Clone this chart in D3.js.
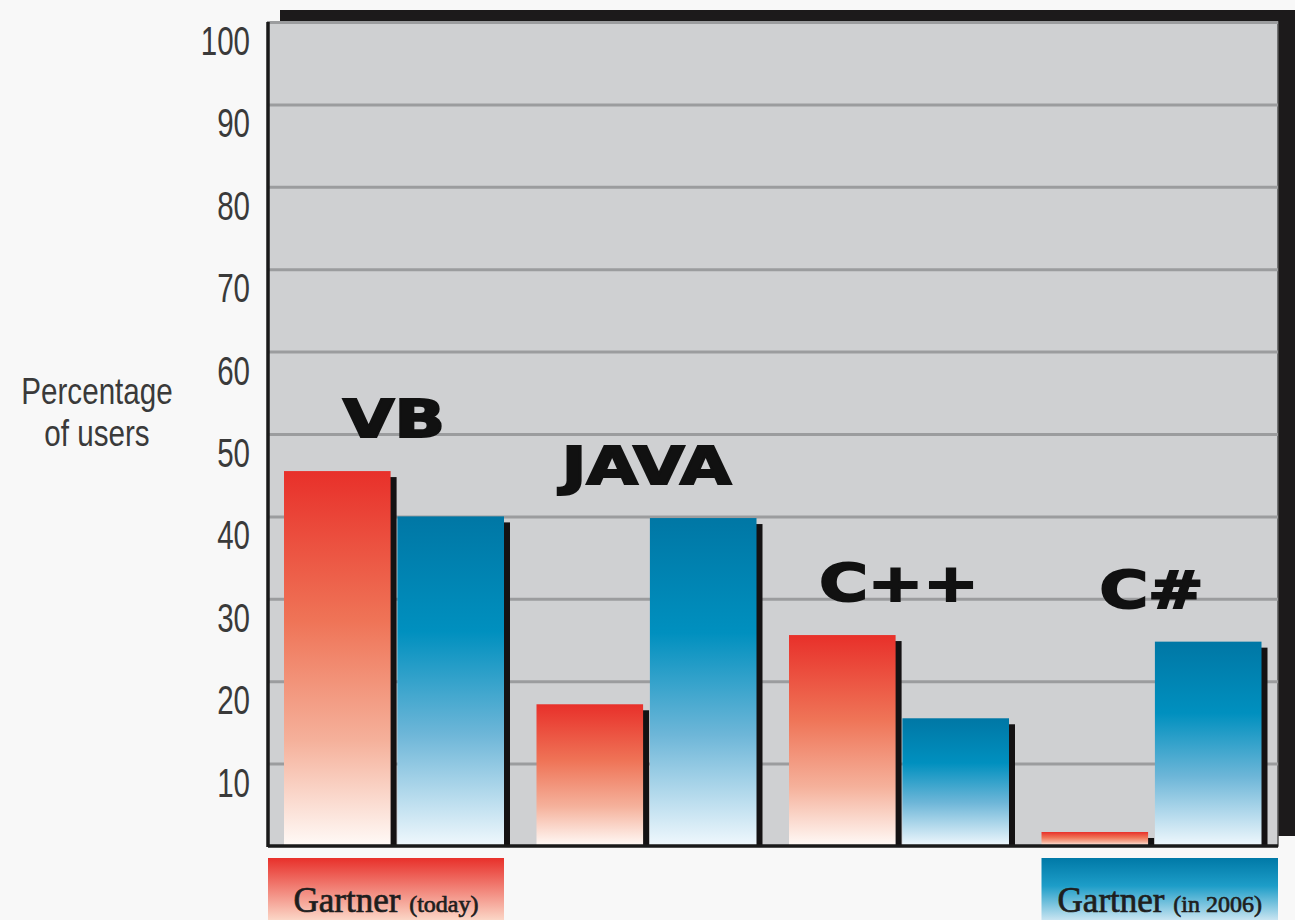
<!DOCTYPE html>
<html>
<head>
<meta charset="utf-8">
<script src="https://cdn.jsdelivr.net/npm/d3@7"></script>
<style>
  html, body { margin: 0; padding: 0; overflow: hidden; background: #f8f8f8; }
  svg { display: block; }
</style>
</head>
<body>
<svg id="chart"></svg>
<script>
// data
const categories = ["VB", "JAVA", "C++", "C#"];
const series = ["today", "in 2006"];
const todayValues = [45.5, 17.2, 25.6, 1.7];
const in2006Values = [40, 39.8, 15.5, 24.8];
const yTicks = [10, 20, 30, 40, 50, 60, 70, 80, 90, 100];
const legendLabels = [["Gartner", "(today)"], ["Gartner", "(in 2006)"]];

const W = 1295, H = 920;
const plot = { left: 268, top: 22, right: 1278, bottom: 846 };
const plotW = plot.right - plot.left;
const plotH = plot.bottom - plot.top;

const svg = d3.select("#chart").attr("width", W).attr("height", H);

// gradients
const defs = svg.append("defs");
function grad(id, stops) {
  const g = defs.append("linearGradient").attr("id", id)
    .attr("x1", 0).attr("y1", 0).attr("x2", 0).attr("y2", 1);
  stops.forEach(s => g.append("stop").attr("offset", s[0]).attr("stop-color", s[1]));
}
grad("redGrad", [[0, "#e8302a"], [0.4, "#ef7457"], [0.72, "#f5b19b"], [1, "#fffaf7"]]);
grad("blueGrad", [[0, "#0077a5"], [0.35, "#0090bf"], [0.66, "#6db6d8"], [1, "#f0f8fd"]]);
grad("redLegend", [[0, "#e8302a"], [1, "#fbd6c6"]]);
grad("blueLegend", [[0, "#0079a7"], [0.45, "#1d9dc8"], [1, "#c8e4f1"]]);

// scales
const y = d3.scaleLinear().domain([0, 100]).range([plot.bottom, plot.top]);
const x0 = d3.scaleBand().domain(categories).range([plot.left, plot.right]);
const x1 = d3.scaleBand().domain(series).range([16, 236]).paddingInner(0.06);
const fills = { "today": "url(#redGrad)", "in 2006": "url(#blueGrad)" };

// frame shadow (top and right)
svg.append("rect")
  .attr("x", plot.left + 12).attr("y", plot.top - 12)
  .attr("width", W - plot.left - 12).attr("height", plotH + 2)
  .attr("fill", "#1c1a1b");

// plot background
svg.append("rect")
  .attr("x", plot.left).attr("y", plot.top)
  .attr("width", plotW).attr("height", plotH)
  .attr("fill", "#cfd0d2")
  .attr("stroke", "#555").attr("stroke-width", 1.5);

// gridlines
svg.append("g")
  .attr("transform", `translate(${plot.left},0)`)
  .call(d3.axisLeft(y).tickValues(yTicks).tickSize(-plotW).tickFormat(""))
  .call(g => g.select(".domain").remove())
  .call(g => g.selectAll("line").attr("stroke", "#9b9c9e").attr("stroke-width", 3));

// tick labels
svg.append("g").selectAll("text")
  .data(yTicks)
  .enter().append("text")
  .attr("transform", d => `translate(250,${y(d) + 33}) scale(0.72,1)`)
  .attr("text-anchor", "end")
  .style("font-family", "'Liberation Sans', Arial, sans-serif")
  .style("font-size", "41px")
  .style("fill", "#3a3a3a")
  .text(d => d);

// axis title
svg.append("text")
  .attr("transform", "translate(97,404) scale(0.8,1)")
  .attr("text-anchor", "middle")
  .style("font-family", "'Liberation Sans', Arial, sans-serif")
  .style("font-size", "37px")
  .style("fill", "#3a3a3a")
  .call(t => {
    t.append("tspan").attr("x", 0).attr("dy", 0).text("Percentage");
    t.append("tspan").attr("x", 0).attr("dy", 42).text("of users");
  });

// bars
const rows = categories.map((c, i) => ({
  cat: c,
  vals: [{ s: "today", v: todayValues[i] }, { s: "in 2006", v: in2006Values[i] }]
}));

const groups = svg.append("g").selectAll("g")
  .data(rows)
  .enter().append("g")
  .attr("transform", d => `translate(${x0(d.cat)},0)`);

// bar shadows
groups.selectAll("rect.shadow")
  .data(d => d.vals)
  .enter().append("rect")
  .attr("class", "shadow")
  .attr("x", d => x1(d.s) + 6)
  .attr("y", d => y(d.v) + 6)
  .attr("width", x1.bandwidth())
  .attr("height", d => Math.max(0, plot.bottom - y(d.v) - 6))
  .attr("fill", "#141213");

groups.selectAll("rect.bar")
  .data(d => d.vals)
  .enter().append("rect")
  .attr("class", "bar")
  .attr("x", d => x1(d.s))
  .attr("y", d => y(d.v))
  .attr("width", x1.bandwidth())
  .attr("height", d => plot.bottom - y(d.v))
  .attr("fill", d => fills[d.s]);

// category labels above the taller bar
groups.append("text")
  .attr("transform", d => {
    const cx = x1("in 2006") - (x1.step() - x1.bandwidth()) / 2;
    const top = y(d3.max(d.vals, v => v.v));
    return `translate(${cx},${top - 34}) scale(1.3,1)`;
  })
  .attr("text-anchor", "middle")
  .style("font-family", "'DejaVu Sans', sans-serif")
  .style("font-weight", "bold")
  .style("font-size", "51px")
  .style("fill", "#111")
  .style("stroke", "#111")
  .style("stroke-width", 2)
  .text(d => d.cat);

// axis lines: left and bottom
svg.append("line")
  .attr("x1", plot.left).attr("x2", plot.left)
  .attr("y1", plot.top).attr("y2", plot.bottom + 1)
  .attr("stroke", "#1a1a1a").attr("stroke-width", 3.5);
svg.append("line")
  .attr("x1", plot.left).attr("x2", plot.right)
  .attr("y1", plot.bottom).attr("y2", plot.bottom)
  .attr("stroke", "#1a1a1a").attr("stroke-width", 3.5);

// legend boxes
const legendBoxes = [
  { x: x0(categories[0]), w: x1("in 2006") + x1.bandwidth(), fill: "url(#redLegend)" },
  { x: x0(categories[3]) + x1("today"), w: plot.right - x0(categories[3]) - x1("today"), fill: "url(#blueLegend)" }
];
const legend = svg.append("g").selectAll("g")
  .data(legendBoxes)
  .enter().append("g");

legend.append("rect")
  .attr("x", d => d.x).attr("y", 858)
  .attr("width", d => d.w).attr("height", H - 858)
  .attr("fill", d => d.fill);

legend.append("text")
  .attr("x", d => d.x + d.w / 2)
  .attr("y", 912)
  .attr("text-anchor", "middle")
  .style("font-family", "'Liberation Serif', 'Times New Roman', serif")
  .style("fill", "#1e1e1e")
  .style("stroke", "#1e1e1e")
  .style("stroke-width", 0.7)
  .each(function(d, i) {
    const t = d3.select(this);
    t.append("tspan").style("font-size", "35px").text(legendLabels[i][0] + " ");
    t.append("tspan").style("font-size", "24px").text(legendLabels[i][1]);
  });
</script>
</body>
</html>
